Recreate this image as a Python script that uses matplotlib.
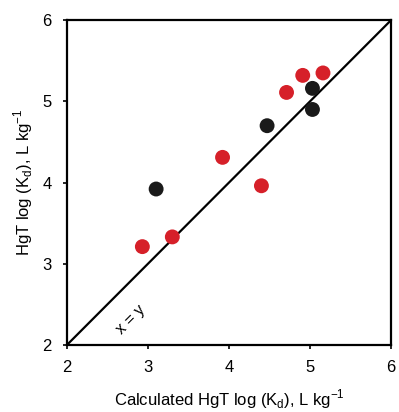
import matplotlib
matplotlib.use("Agg")
import matplotlib.pyplot as plt

plt.rcParams['font.family'] = ['Liberation Sans', 'DejaVu Sans']

# black points
black_x = [3.10, 4.47, 5.03, 5.03]
black_y = [3.92, 4.70, 5.16, 4.90]
# red points
red_x = [2.93, 3.30, 3.92, 4.40, 4.71, 4.91, 5.16]
red_y = [3.21, 3.33, 4.31, 3.96, 5.11, 5.32, 5.35]

ticks = [2, 3, 4, 5, 6]

fig = plt.figure(figsize=(3.99, 4.12), dpi=100)
ax = fig.add_axes([0.168, 0.163, 0.812, 0.788])

ax.plot([2, 6], [2, 6], color='black', linewidth=1.6, zorder=1)
ax.scatter(black_x, black_y, s=115, color='#1a1a1a', edgecolors='none', zorder=3)
ax.scatter(red_x, red_y, s=115, color='#d62029', edgecolors='none', zorder=3)

ax.text(2.79, 2.31, 'x = y', rotation=45, ha='center', va='center', fontsize=11.5)

ax.set_xlim(2, 6)
ax.set_ylim(2, 6)
ax.set_xticks(ticks)
ax.set_yticks(ticks)
ax.tick_params(direction='out', length=3, width=1.2, labelsize=12)
ax.tick_params(axis='x', pad=8)
ax.tick_params(axis='y', pad=8)
for sp in ax.spines.values():
    sp.set_linewidth(1.6)

ax.set_xlabel('Calculated HgT log (K$_\\mathregular{d}$), L kg$^\\mathregular{ -1}$', fontsize=12, labelpad=9)
ax.set_ylabel('HgT log (K$_\\mathregular{d}$), L kg$^\\mathregular{ -1}$', fontsize=12, labelpad=5)

fig.savefig('out.png', dpi=100)
